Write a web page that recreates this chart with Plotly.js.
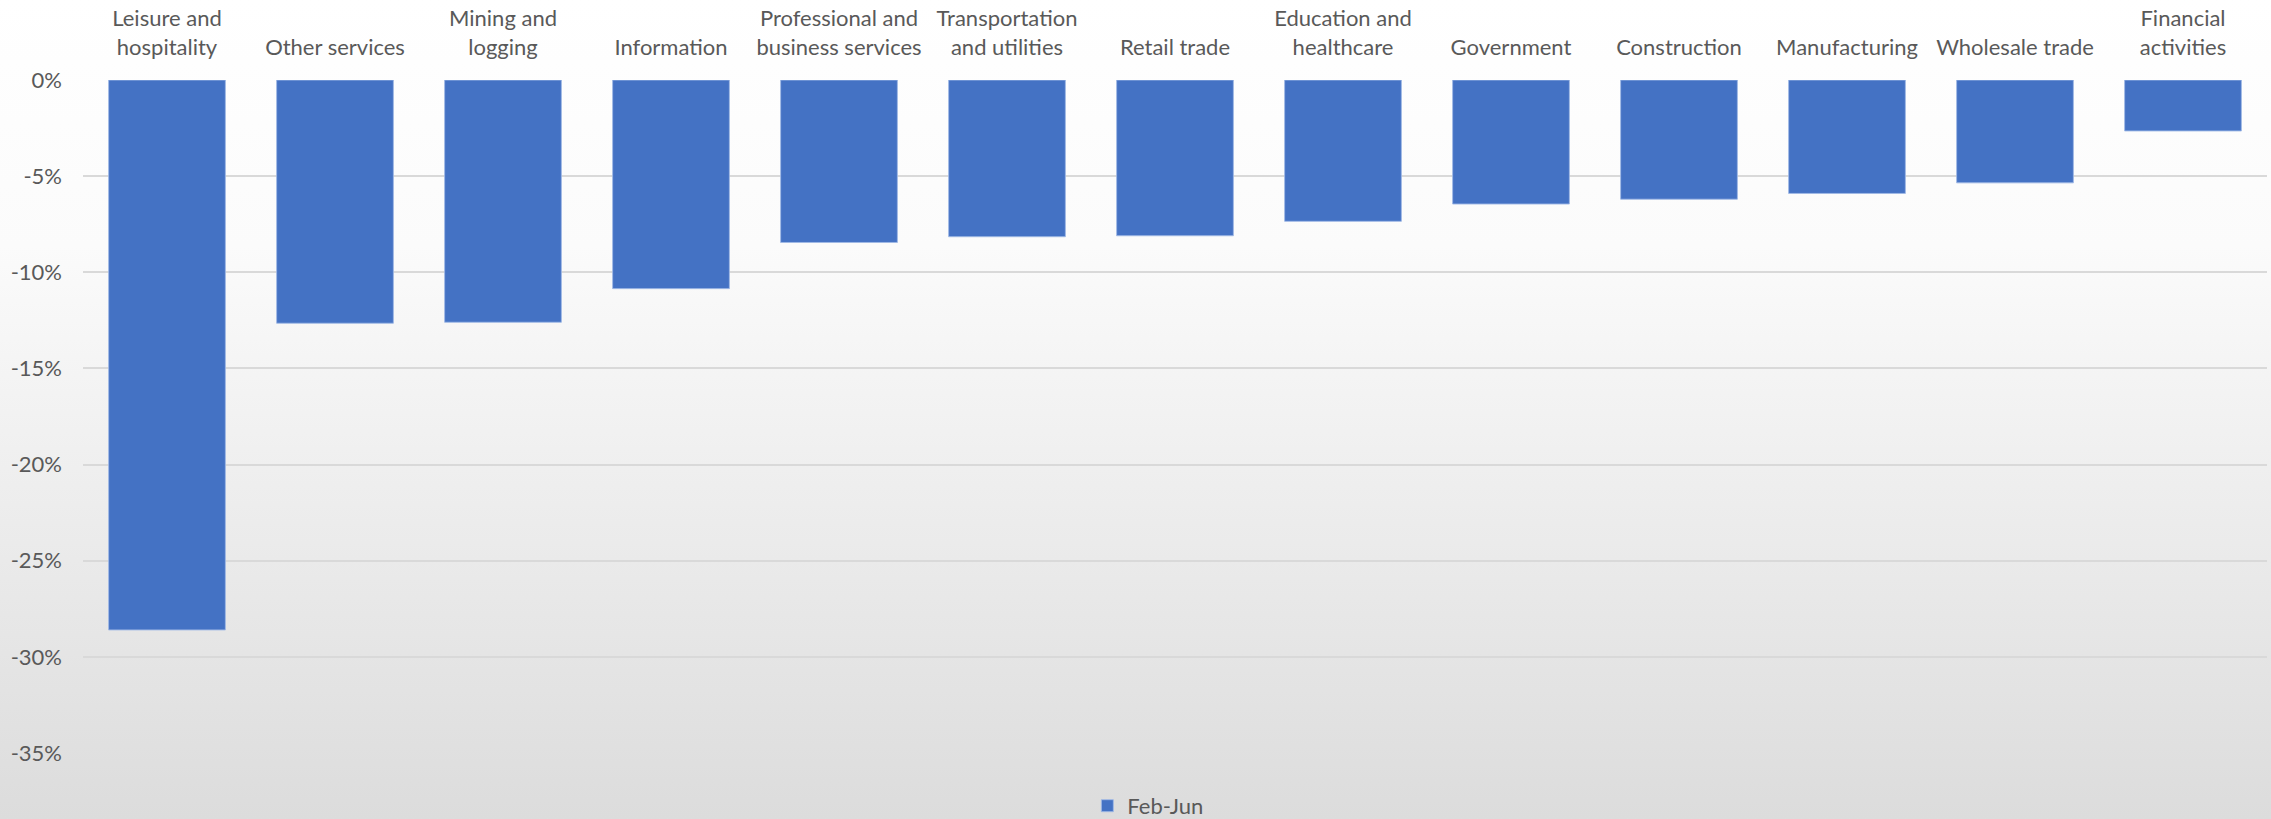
<!DOCTYPE html>
<html>
<head>
<meta charset="utf-8">
<script src="https://cdn.plot.ly/plotly-3.0.1.min.js"></script>
<style>
  html, body { margin: 0; padding: 0; }
  body { width: 2271px; height: 819px; overflow: hidden;
         background: linear-gradient(to bottom, #ffffff 0%, #fbfbfb 30%, #dcdcdc 100%); }
  #chart { width: 2271px; height: 819px; }
</style>
</head>
<body>
<div id="chart"></div>
<script>
// Categories (sector names)
const categories = [
  "Leisure and hospitality", "Other services", "Mining and logging", "Information",
  "Professional and business services", "Transportation and utilities", "Retail trade",
  "Education and healthcare", "Government", "Construction", "Manufacturing",
  "Wholesale trade", "Financial activities"
];
// Tick labels as drawn (wrapped)
const categoryLabels = [
  "Leisure and<br>hospitality", "Other services", "Mining and<br>logging", "Information",
  "Professional and<br>business services", "Transportation<br>and utilities", "Retail trade",
  "Education and<br>healthcare", "Government", "Construction", "Manufacturing",
  "Wholesale trade", "Financial<br>activities"
];
// Employment change Feb-Jun, percent
const febJun = [-28.6, -12.65, -12.6, -10.85, -8.45, -8.15, -8.1, -7.35, -6.45, -6.2, -5.9, -5.35, -2.65];
const seriesName = "Feb-Jun";
// Y axis ticks
const yTickVals = [0, -5, -10, -15, -20, -25, -30, -35];
const yTickText = ["0%", "-5%", "-10%", "-15%", "-20%", "-25%", "-30%", "-35%"];

const textColor = "#595959";
const fontFamily = "Lato, 'Open Sans', sans-serif";

const trace = {
  type: "bar",
  x: categories,
  y: febJun,
  name: seriesName,
  marker: { color: "#4472C4", line: { color: "rgba(160,185,230,0.9)", width: 1 } },
  showlegend: true,
  hoverinfo: "x+y"
};

const layout = {
  width: 2271,
  height: 819,
  margin: { l: 83, r: 4, t: 80, b: 66 },
  paper_bgcolor: "rgba(0,0,0,0)",
  plot_bgcolor: "rgba(0,0,0,0)",
  bargap: 0.305,
  font: { family: fontFamily, size: 22, color: textColor },
  xaxis: {
    side: "top",
    tickmode: "array",
    tickvals: categories,
    ticktext: categoryLabels,
    tickangle: 0,
    showgrid: false,
    showline: false,
    zeroline: false,
    ticks: "",
    ticklabelstandoff: 20,
    tickfont: { family: fontFamily, size: 22, color: textColor },
    automargin: false
  },
  yaxis: {
    range: [-35, 0],
    tickmode: "array",
    tickvals: yTickVals,
    ticktext: yTickText,
    showgrid: true,
    gridcolor: "#d9d9d9",
    gridwidth: 2,
    zeroline: false,
    showline: false,
    ticks: "",
    ticklabelstandoff: 20,
    tickfont: { family: fontFamily, size: 22, color: textColor },
    automargin: false
  },
  showlegend: true,
  legend: {
    orientation: "h",
    xref: "container",
    yref: "container",
    x: 0.4788,
    xanchor: "left",
    y: 0.016,
    yanchor: "middle",
    bgcolor: "rgba(0,0,0,0)",
    font: { family: fontFamily, size: 22, color: textColor }
  }
};

Plotly.newPlot("chart", [trace], layout, { displayModeBar: false, staticPlot: true });
</script>
</body>
</html>
